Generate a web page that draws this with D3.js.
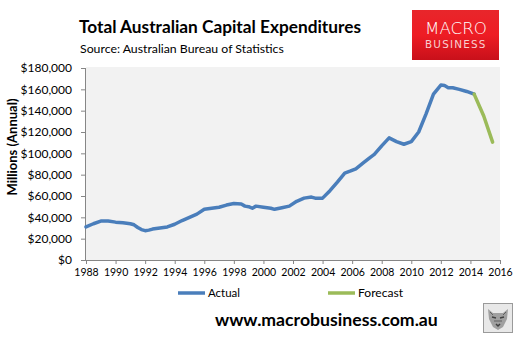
<!DOCTYPE html>
<html><head><meta charset="utf-8">
<script src="https://cdn.jsdelivr.net/npm/d3@7"></script>
<style>html,body{margin:0;padding:0;background:#fff;}svg{display:block;}</style>
</head><body>
<script>
// ---- data ----
const actualYears = [1988.0,1988.5,1989.0,1989.5,1990.0,1990.5,1991.0,1991.25,1991.5,1991.75,1992.0,1992.25,1992.5,1993.0,1993.5,1994.0,1994.5,1995.0,1995.5,1996.0,1996.5,1997.0,1997.5,1998.0,1998.5,1998.75,1999.0,1999.25,1999.5,2000.0,2000.5,2000.75,2001.25,2001.75,2002.25,2002.75,2003.25,2003.5,2004.0,2004.5,2005.0,2005.5,2005.9,2006.25,2006.75,2007.25,2007.5,2008.0,2008.5,2009.0,2009.5,2010.0,2010.5,2011.0,2011.5,2012.0,2012.25,2012.5,2012.8,2013.25,2013.75,2014.25];
const actualValues = [31000,34000,36500,36500,35500,35000,34000,33000,30500,28500,27500,28000,29000,30000,31000,33500,37000,40000,43000,47500,48500,49500,51500,53000,52500,50500,50000,48500,50500,49500,48500,47500,49000,50500,55000,58000,59000,58000,58000,65000,73000,81500,83500,85500,91000,96500,99000,107000,114500,111000,108500,111000,120000,137000,155500,164000,163500,161500,161500,160000,158000,155500];
const forecastYears = [2014.25,2014.9,2015.5];
const forecastValues = [155500,135000,110500];
const xTicks = [1988,1990,1992,1994,1996,1998,2000,2002,2004,2006,2008,2010,2012,2014,2016];
const yTicks = [0,20000,40000,60000,80000,100000,120000,140000,160000,180000];
const seriesNames = ["Actual","Forecast"];
const seriesColors = ["#4A7EBB","#9BBB59"];

const W = 526, H = 339;
const svg = d3.select("body").append("svg").attr("width", W).attr("height", H);
const FONT = "Lato, 'Open Sans', sans-serif";

function fitText(sel, target){
  const n = sel.node();
  const w = n.getComputedTextLength();
  if (w > 0) {
    const fs = parseFloat(sel.attr("font-size"));
    sel.attr("font-size", (fs * target / w).toFixed(2));
  }
  return sel;
}

// plot area
const x = d3.scaleLinear().domain([1988, 2016]).range([86, 500]);
const y = d3.scaleLinear().domain([0, 180000]).range([260, 68]);

svg.append("rect").attr("x", 86).attr("y", 67).attr("width", 414).attr("height", 193).attr("fill", "#F2F2F2");

// y axis
const yAxis = svg.append("g").attr("transform", "translate(86,0)")
  .call(d3.axisLeft(y).tickValues(yTicks).tickSize(5).tickPadding(9)
    .tickFormat(d => "$" + d3.format(",")(d)));
yAxis.select(".domain").attr("stroke", "#868686").attr("d", "M-0.5,68V260.5");
yAxis.selectAll(".tick line").attr("stroke", "#868686");
yAxis.selectAll("text").attr("font-family", FONT).attr("font-size", 12).attr("fill", "#000");

// x axis
const xAxis = svg.append("g").attr("transform", "translate(0,260)")
  .call(d3.axisBottom(x).tickValues(xTicks).tickSize(4).tickPadding(5).tickFormat(d3.format("d")));
xAxis.select(".domain").attr("stroke", "#868686").attr("d", "M86,0.5H500");
xAxis.selectAll(".tick line").attr("stroke", "#868686");
xAxis.selectAll("text").attr("font-family", FONT).attr("font-size", 10.5).attr("fill", "#000");

// lines
const line = d3.line().x(d => x(d[0])).y(d => y(d[1]));
const actual = actualYears.map((v, i) => [v, actualValues[i]]);
const forecast = forecastYears.map((v, i) => [v, forecastValues[i]]);
svg.append("path").datum(actual).attr("d", line).attr("fill", "none")
  .attr("stroke", seriesColors[0]).attr("stroke-width", 3.5).attr("stroke-linejoin", "round").attr("stroke-linecap", "round");
svg.append("path").datum(forecast).attr("d", line).attr("fill", "none")
  .attr("stroke", seriesColors[1]).attr("stroke-width", 3.5).attr("stroke-linejoin", "round").attr("stroke-linecap", "round");

// y title
fitText(svg.append("text").attr("transform", "translate(17,147) rotate(-90)").attr("text-anchor", "middle")
  .attr("font-family", FONT).attr("font-weight", "bold").attr("font-size", 12).text("Millions (Annual)"), 97);

// title
fitText(svg.append("text").attr("x", 79).attr("y", 33).attr("font-family", FONT).attr("font-weight", "bold")
  .attr("font-size", 19).attr("fill", "#000").text("Total Australian Capital Expenditures"), 282);
fitText(svg.append("text").attr("x", 80).attr("y", 53).attr("font-family", FONT)
  .attr("font-size", 13).attr("fill", "#000").text("Source: Australian Bureau of Statistics"), 204);

// legend
const legX = [178, 328];
const legTW = [32, 45];
seriesNames.forEach((n, i) => {
  svg.append("line").attr("x1", legX[i]).attr("x2", legX[i] + 27).attr("y1", 293).attr("y2", 293)
    .attr("stroke", seriesColors[i]).attr("stroke-width", 3.5);
  fitText(svg.append("text").attr("x", legX[i] + 30).attr("y", 297).attr("font-family", FONT)
    .attr("font-size", 12).attr("fill", "#000").text(n), legTW[i]);
});

// footer
fitText(svg.append("text").attr("x", 215).attr("y", 326).attr("font-family", FONT).attr("font-weight", "bold")
  .attr("font-size", 17).attr("fill", "#000").text("www.macrobusiness.com.au"), 223);

// logo
const defs = svg.append("defs");
const grad = defs.append("linearGradient").attr("id", "lg").attr("x1", 0).attr("y1", 0).attr("x2", 0).attr("y2", 1);
grad.append("stop").attr("offset", "0%").attr("stop-color", "#E8262B");
grad.append("stop").attr("offset", "50%").attr("stop-color", "#EE1C24");
grad.append("stop").attr("offset", "100%").attr("stop-color", "#C8101A");
svg.append("rect").attr("x", 412).attr("y", 10).attr("width", 87).attr("height", 50).attr("fill", "url(#lg)");
fitText(svg.append("text").attr("x", 425).attr("y", 34).attr("font-family", "'DejaVu Sans', sans-serif")
  .attr("font-size", 17).attr("fill", "#fff").attr("font-weight", 300).text("MACRO"), 62);
fitText(svg.append("text").attr("x", 425).attr("y", 48).attr("font-family", "'DejaVu Sans', sans-serif")
  .attr("font-size", 10).attr("fill", "#F8D0D0").attr("letter-spacing", 1.2).text("BUSINESS"), 62);

// wolf badge
const wg = svg.append("g").attr("transform", "translate(483,303)");
wg.append("rect").attr("x", 0.5).attr("y", 0.5).attr("width", 29).attr("height", 29).attr("fill", "#E8E8E8").attr("stroke", "#9A9A9A");
wg.append("path").attr("d", "M5,6 L10,10 L20,10 L25,6 L24,16 L20,24 L15,27 L10,24 L6,16 Z").attr("fill", "#A0A0A0");
wg.append("path").attr("d", "M9,14 L13,15 M17,15 L21,14 M13,21 L15,23 L17,21").attr("stroke", "#404040").attr("stroke-width", 1.5).attr("fill", "none");
wg.append("path").attr("d", "M7,9 L10,12 M23,9 L20,12 M11,18 L19,18").attr("stroke", "#606060").attr("stroke-width", 1).attr("fill", "none");
</script>
</body></html>
